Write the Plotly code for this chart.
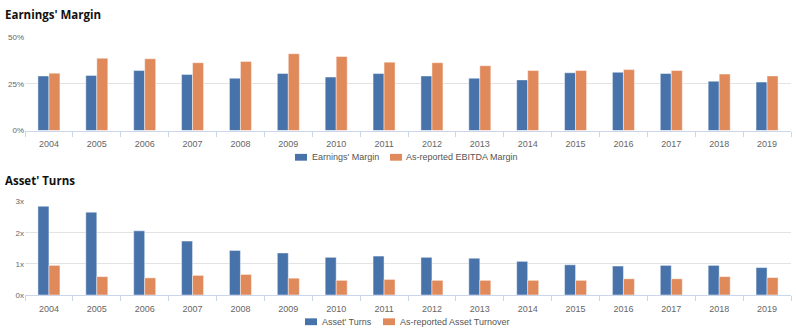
import plotly.graph_objects as go

years = [str(y) for y in range(2004, 2020)]
earnings_margin = [29.2, 29.5, 32.1, 30.0, 28.0, 30.5, 28.6, 30.5, 29.2, 28.0, 27.1, 30.9, 31.2, 30.5, 26.4, 25.9]
ebitda_margin = [30.7, 38.7, 38.4, 36.3, 37.0, 41.1, 39.6, 36.6, 36.3, 34.7, 32.1, 32.1, 32.6, 32.1, 30.2, 29.2]
asset_turns = [2.85, 2.66, 2.06, 1.73, 1.43, 1.35, 1.21, 1.25, 1.21, 1.18, 1.08, 0.97, 0.93, 0.95, 0.95, 0.88]
asset_turnover = [0.95, 0.59, 0.55, 0.63, 0.66, 0.54, 0.47, 0.50, 0.47, 0.47, 0.47, 0.47, 0.52, 0.52, 0.59, 0.56]

names_top = ["Earnings' Margin", "As-reported EBITDA Margin"]
names_bot = ["Asset' Turns", "As-reported Asset Turnover"]

BLUE = "#4873aa"
ORANGE = "#e0895b"
W, H = 796, 336
FONT = "Liberation Sans, Arial, sans-serif"

def dom(top_px, bot_px):
    return [1 - bot_px / H, 1 - top_px / H]

fig = go.Figure()
bar_line = dict(width=1, color="rgba(255,255,255,0.45)")
fig.add_trace(go.Bar(x=years, y=earnings_margin, name=names_top[0], marker=dict(color=BLUE, line=bar_line),
                     xaxis="x", yaxis="y"))
fig.add_trace(go.Bar(x=years, y=ebitda_margin, name=names_top[1], marker=dict(color=ORANGE, line=bar_line),
                     xaxis="x", yaxis="y"))
fig.add_trace(go.Bar(x=years, y=asset_turns, name=names_bot[0], marker=dict(color=BLUE, line=bar_line),
                     xaxis="x2", yaxis="y2"))
fig.add_trace(go.Bar(x=years, y=asset_turnover, name=names_bot[1], marker=dict(color=ORANGE, line=bar_line),
                     xaxis="x2", yaxis="y2"))

tickfont = dict(family=FONT, size=9, color="#666666")
xcommon = dict(type="category", showline=True, linecolor="#ccd6eb", linewidth=1,
               ticks="outside", tickson="boundaries", ticklen=5, tickcolor="#ccd6eb",
               tickfont=tickfont, showgrid=False, domain=[25 / W, 791 / W], fixedrange=True,
               ticklabelstandoff=5)
ycommon = dict(showgrid=True, gridcolor="#e3e3e3", gridwidth=1, zeroline=False,
               tickfont=dict(family=FONT, size=8, color="#666666"),
               ticks="", fixedrange=True)

# custom legends (swatch + label)
shapes = []
annotations = []
def legend_item(x0, ymid, color, label, tx):
    shapes.append(dict(type="rect", xref="paper", yref="paper",
                       x0=x0 / W, x1=(x0 + 12) / W, y0=1 - (ymid + 3.5) / H, y1=1 - (ymid - 3.5) / H,
                       fillcolor=color, line=dict(width=0)))
    annotations.append(dict(text=label, x=tx / W, y=1 - ymid / H, xref="paper", yref="paper",
                            xanchor="left", yanchor="middle", showarrow=False,
                            font=dict(family=FONT, size=9, color="#555555")))

legend_item(295, 157.5, BLUE, names_top[0], 310)
legend_item(390, 157.5, ORANGE, names_top[1], 404)
legend_item(305, 326.5, BLUE, names_bot[0], 320)
legend_item(383, 326.5, ORANGE, names_bot[1], 398)

annotations.append(dict(text="<b>Earnings' Margin</b>", x=3 / W, y=1 - 11 / H, xref="paper", yref="paper",
                        xanchor="left", yanchor="middle", showarrow=False,
                        font=dict(family="Open Sans, sans-serif", size=11.5, color="#111111")))
annotations.append(dict(text="<b>Asset' Turns</b>", x=3 / W, y=1 - 181 / H, xref="paper", yref="paper",
                        xanchor="left", yanchor="middle", showarrow=False,
                        font=dict(family="Open Sans, sans-serif", size=11.5, color="#111111")))

fig.update_layout(
    width=W, height=H,
    margin=dict(l=0, r=0, t=0, b=0),
    paper_bgcolor="white", plot_bgcolor="white",
    barmode="group", bargap=0.54, bargroupgap=0.0,
    showlegend=False,
    font=dict(family=FONT, size=9, color="#444444"),
    xaxis=dict(**xcommon, anchor="y"),
    yaxis=dict(**ycommon, domain=dom(34, 130), range=[0, 50], tickvals=[0, 25, 50],
               ticktext=["0%", "25%", "50%"], anchor="x"),
    xaxis2=dict(**xcommon, anchor="y2"),
    yaxis2=dict(**ycommon, domain=dom(203, 299), range=[0, 3], tickvals=[0, 1, 2, 3],
                ticktext=["0x", "1x", "2x", "3x"], anchor="x2"),
    shapes=shapes,
    annotations=annotations,
)

fig.write_html("out.html")
